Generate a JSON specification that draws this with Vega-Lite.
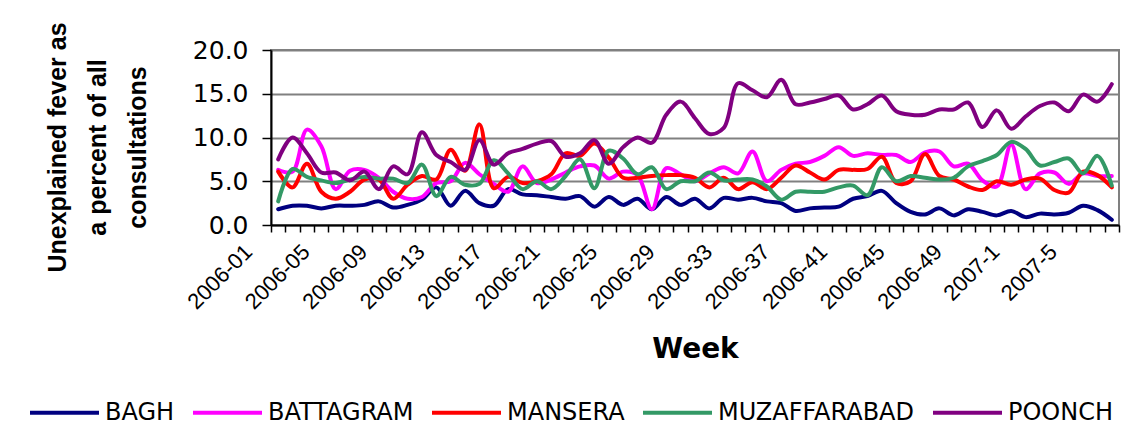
{
"$schema": "https://vega.github.io/schema/vega-lite/v6.json",
"width": 848, "height": 175,
"autosize": {"type": "none"},
"padding": {"left": 271, "top": 50, "right": 16, "bottom": 213},
"background": "white",
"data": {"values": [
{"week":"2006-01","region":"BAGH","pct":1.8},{"week":"2006-02","region":"BAGH","pct":2.2},{"week":"2006-03","region":"BAGH","pct":2.2},{"week":"2006-04","region":"BAGH","pct":1.9},{"week":"2006-05","region":"BAGH","pct":2.2},{"week":"2006-06","region":"BAGH","pct":2.2},{"week":"2006-07","region":"BAGH","pct":2.3},{"week":"2006-08","region":"BAGH","pct":2.7},{"week":"2006-09","region":"BAGH","pct":2.0},{"week":"2006-10","region":"BAGH","pct":2.3},
{"week":"2006-11","region":"BAGH","pct":2.9},{"week":"2006-12","region":"BAGH","pct":4.3},{"week":"2006-13","region":"BAGH","pct":2.2},{"week":"2006-14","region":"BAGH","pct":3.9},{"week":"2006-15","region":"BAGH","pct":2.5},{"week":"2006-16","region":"BAGH","pct":2.2},{"week":"2006-17","region":"BAGH","pct":4.1},{"week":"2006-18","region":"BAGH","pct":3.5},{"week":"2006-19","region":"BAGH","pct":3.4},{"week":"2006-20","region":"BAGH","pct":3.2},
{"week":"2006-21","region":"BAGH","pct":3.0},{"week":"2006-22","region":"BAGH","pct":3.3},{"week":"2006-23","region":"BAGH","pct":2.1},{"week":"2006-24","region":"BAGH","pct":3.2},{"week":"2006-25","region":"BAGH","pct":2.3},{"week":"2006-26","region":"BAGH","pct":3.0},{"week":"2006-27","region":"BAGH","pct":1.8},{"week":"2006-28","region":"BAGH","pct":3.2},{"week":"2006-29","region":"BAGH","pct":2.3},{"week":"2006-30","region":"BAGH","pct":3.0},
{"week":"2006-31","region":"BAGH","pct":1.9},{"week":"2006-32","region":"BAGH","pct":3.1},{"week":"2006-33","region":"BAGH","pct":2.9},{"week":"2006-34","region":"BAGH","pct":3.1},{"week":"2006-35","region":"BAGH","pct":2.7},{"week":"2006-36","region":"BAGH","pct":2.5},{"week":"2006-37","region":"BAGH","pct":1.6},{"week":"2006-38","region":"BAGH","pct":1.9},{"week":"2006-39","region":"BAGH","pct":2.0},{"week":"2006-40","region":"BAGH","pct":2.1},
{"week":"2006-41","region":"BAGH","pct":3.0},{"week":"2006-42","region":"BAGH","pct":3.3},{"week":"2006-43","region":"BAGH","pct":3.9},{"week":"2006-44","region":"BAGH","pct":2.5},{"week":"2006-45","region":"BAGH","pct":1.5},{"week":"2006-46","region":"BAGH","pct":1.2},{"week":"2006-47","region":"BAGH","pct":1.9},{"week":"2006-48","region":"BAGH","pct":1.1},{"week":"2006-49","region":"BAGH","pct":1.8},{"week":"2006-50","region":"BAGH","pct":1.5},
{"week":"2006-51","region":"BAGH","pct":1.1},{"week":"2006-52","region":"BAGH","pct":1.6},{"week":"2007-1","region":"BAGH","pct":0.9},{"week":"2007-2","region":"BAGH","pct":1.3},{"week":"2007-3","region":"BAGH","pct":1.2},{"week":"2007-4","region":"BAGH","pct":1.4},{"week":"2007-5","region":"BAGH","pct":2.2},{"week":"2007-6","region":"BAGH","pct":1.7},{"week":"2007-7","region":"BAGH","pct":0.6},
{"week":"2006-01","region":"BATTAGRAM","pct":6.3},{"week":"2006-02","region":"BATTAGRAM","pct":6.1},{"week":"2006-03","region":"BATTAGRAM","pct":10.9},{"week":"2006-04","region":"BATTAGRAM","pct":9.0},{"week":"2006-05","region":"BATTAGRAM","pct":4.1},{"week":"2006-06","region":"BATTAGRAM","pct":6.2},{"week":"2006-07","region":"BATTAGRAM","pct":6.3},{"week":"2006-08","region":"BATTAGRAM","pct":5.4},{"week":"2006-09","region":"BATTAGRAM","pct":3.8},{"week":"2006-10","region":"BATTAGRAM","pct":3.0},
{"week":"2006-11","region":"BATTAGRAM","pct":3.2},{"week":"2006-12","region":"BATTAGRAM","pct":4.8},{"week":"2006-13","region":"BATTAGRAM","pct":5.0},{"week":"2006-14","region":"BATTAGRAM","pct":7.1},{"week":"2006-15","region":"BATTAGRAM","pct":5.8},{"week":"2006-16","region":"BATTAGRAM","pct":4.7},{"week":"2006-17","region":"BATTAGRAM","pct":3.8},{"week":"2006-18","region":"BATTAGRAM","pct":6.7},{"week":"2006-19","region":"BATTAGRAM","pct":4.8},{"week":"2006-20","region":"BATTAGRAM","pct":5.2},
{"week":"2006-21","region":"BATTAGRAM","pct":6.0},{"week":"2006-22","region":"BATTAGRAM","pct":6.7},{"week":"2006-23","region":"BATTAGRAM","pct":6.8},{"week":"2006-24","region":"BATTAGRAM","pct":5.3},{"week":"2006-25","region":"BATTAGRAM","pct":6.1},{"week":"2006-26","region":"BATTAGRAM","pct":5.7},{"week":"2006-27","region":"BATTAGRAM","pct":1.8},{"week":"2006-28","region":"BATTAGRAM","pct":6.5},{"week":"2006-29","region":"BATTAGRAM","pct":5.8},{"week":"2006-30","region":"BATTAGRAM","pct":5.0},
{"week":"2006-31","region":"BATTAGRAM","pct":5.9},{"week":"2006-32","region":"BATTAGRAM","pct":6.6},{"week":"2006-33","region":"BATTAGRAM","pct":5.9},{"week":"2006-34","region":"BATTAGRAM","pct":8.4},{"week":"2006-35","region":"BATTAGRAM","pct":5.0},{"week":"2006-36","region":"BATTAGRAM","pct":6.3},{"week":"2006-37","region":"BATTAGRAM","pct":7.0},{"week":"2006-38","region":"BATTAGRAM","pct":7.2},{"week":"2006-39","region":"BATTAGRAM","pct":7.9},{"week":"2006-40","region":"BATTAGRAM","pct":8.9},
{"week":"2006-41","region":"BATTAGRAM","pct":7.9},{"week":"2006-42","region":"BATTAGRAM","pct":8.2},{"week":"2006-43","region":"BATTAGRAM","pct":8.0},{"week":"2006-44","region":"BATTAGRAM","pct":8.0},{"week":"2006-45","region":"BATTAGRAM","pct":7.2},{"week":"2006-46","region":"BATTAGRAM","pct":8.3},{"week":"2006-47","region":"BATTAGRAM","pct":8.4},{"week":"2006-48","region":"BATTAGRAM","pct":6.7},{"week":"2006-49","region":"BATTAGRAM","pct":7.0},{"week":"2006-50","region":"BATTAGRAM","pct":5.1},
{"week":"2006-51","region":"BATTAGRAM","pct":4.4},{"week":"2006-52","region":"BATTAGRAM","pct":9.2},{"week":"2007-1","region":"BATTAGRAM","pct":4.1},{"week":"2007-2","region":"BATTAGRAM","pct":5.9},{"week":"2007-3","region":"BATTAGRAM","pct":6.0},{"week":"2007-4","region":"BATTAGRAM","pct":4.7},{"week":"2007-5","region":"BATTAGRAM","pct":5.9},{"week":"2007-6","region":"BATTAGRAM","pct":5.6},{"week":"2007-7","region":"BATTAGRAM","pct":5.6},
{"week":"2006-01","region":"MANSERA","pct":6.1},{"week":"2006-02","region":"MANSERA","pct":4.3},{"week":"2006-03","region":"MANSERA","pct":7.0},{"week":"2006-04","region":"MANSERA","pct":3.8},{"week":"2006-05","region":"MANSERA","pct":3.0},{"week":"2006-06","region":"MANSERA","pct":3.8},{"week":"2006-07","region":"MANSERA","pct":5.2},{"week":"2006-08","region":"MANSERA","pct":5.2},{"week":"2006-09","region":"MANSERA","pct":3.0},{"week":"2006-10","region":"MANSERA","pct":4.6},
{"week":"2006-11","region":"MANSERA","pct":5.6},{"week":"2006-12","region":"MANSERA","pct":5.2},{"week":"2006-13","region":"MANSERA","pct":8.6},{"week":"2006-14","region":"MANSERA","pct":6.2},{"week":"2006-15","region":"MANSERA","pct":11.5},{"week":"2006-16","region":"MANSERA","pct":4.2},{"week":"2006-17","region":"MANSERA","pct":5.5},{"week":"2006-18","region":"MANSERA","pct":4.8},{"week":"2006-19","region":"MANSERA","pct":5.0},{"week":"2006-20","region":"MANSERA","pct":5.8},
{"week":"2006-21","region":"MANSERA","pct":8.2},{"week":"2006-22","region":"MANSERA","pct":7.9},{"week":"2006-23","region":"MANSERA","pct":9.3},{"week":"2006-24","region":"MANSERA","pct":7.7},{"week":"2006-25","region":"MANSERA","pct":5.4},{"week":"2006-26","region":"MANSERA","pct":5.4},{"week":"2006-27","region":"MANSERA","pct":5.6},{"week":"2006-28","region":"MANSERA","pct":5.7},{"week":"2006-29","region":"MANSERA","pct":5.7},{"week":"2006-30","region":"MANSERA","pct":5.4},
{"week":"2006-31","region":"MANSERA","pct":4.3},{"week":"2006-32","region":"MANSERA","pct":5.4},{"week":"2006-33","region":"MANSERA","pct":4.1},{"week":"2006-34","region":"MANSERA","pct":4.9},{"week":"2006-35","region":"MANSERA","pct":4.1},{"week":"2006-36","region":"MANSERA","pct":5.4},{"week":"2006-37","region":"MANSERA","pct":6.8},{"week":"2006-38","region":"MANSERA","pct":6.0},{"week":"2006-39","region":"MANSERA","pct":5.2},{"week":"2006-40","region":"MANSERA","pct":6.3},
{"week":"2006-41","region":"MANSERA","pct":6.3},{"week":"2006-42","region":"MANSERA","pct":6.4},{"week":"2006-43","region":"MANSERA","pct":7.8},{"week":"2006-44","region":"MANSERA","pct":4.8},{"week":"2006-45","region":"MANSERA","pct":5.0},{"week":"2006-46","region":"MANSERA","pct":8.1},{"week":"2006-47","region":"MANSERA","pct":5.6},{"week":"2006-48","region":"MANSERA","pct":5.2},{"week":"2006-49","region":"MANSERA","pct":4.4},{"week":"2006-50","region":"MANSERA","pct":4.0},
{"week":"2006-51","region":"MANSERA","pct":5.0},{"week":"2006-52","region":"MANSERA","pct":4.6},{"week":"2007-1","region":"MANSERA","pct":5.2},{"week":"2007-2","region":"MANSERA","pct":5.3},{"week":"2007-3","region":"MANSERA","pct":4.0},{"week":"2007-4","region":"MANSERA","pct":3.7},{"week":"2007-5","region":"MANSERA","pct":6.1},{"week":"2007-6","region":"MANSERA","pct":5.7},{"week":"2007-7","region":"MANSERA","pct":4.3},
{"week":"2006-01","region":"MUZAFFARABAD","pct":2.7},{"week":"2006-02","region":"MUZAFFARABAD","pct":6.4},{"week":"2006-03","region":"MUZAFFARABAD","pct":5.5},{"week":"2006-04","region":"MUZAFFARABAD","pct":5.1},{"week":"2006-05","region":"MUZAFFARABAD","pct":4.8},{"week":"2006-06","region":"MUZAFFARABAD","pct":5.2},{"week":"2006-07","region":"MUZAFFARABAD","pct":5.5},{"week":"2006-08","region":"MUZAFFARABAD","pct":5.3},{"week":"2006-09","region":"MUZAFFARABAD","pct":5.3},{"week":"2006-10","region":"MUZAFFARABAD","pct":4.8},
{"week":"2006-11","region":"MUZAFFARABAD","pct":6.9},{"week":"2006-12","region":"MUZAFFARABAD","pct":3.3},{"week":"2006-13","region":"MUZAFFARABAD","pct":5.5},{"week":"2006-14","region":"MUZAFFARABAD","pct":4.6},{"week":"2006-15","region":"MUZAFFARABAD","pct":4.7},{"week":"2006-16","region":"MUZAFFARABAD","pct":7.4},{"week":"2006-17","region":"MUZAFFARABAD","pct":5.9},{"week":"2006-18","region":"MUZAFFARABAD","pct":4.1},{"week":"2006-19","region":"MUZAFFARABAD","pct":5.0},{"week":"2006-20","region":"MUZAFFARABAD","pct":4.1},
{"week":"2006-21","region":"MUZAFFARABAD","pct":5.6},{"week":"2006-22","region":"MUZAFFARABAD","pct":7.5},{"week":"2006-23","region":"MUZAFFARABAD","pct":4.2},{"week":"2006-24","region":"MUZAFFARABAD","pct":8.5},{"week":"2006-25","region":"MUZAFFARABAD","pct":7.6},{"week":"2006-26","region":"MUZAFFARABAD","pct":5.8},{"week":"2006-27","region":"MUZAFFARABAD","pct":6.6},{"week":"2006-28","region":"MUZAFFARABAD","pct":4.1},{"week":"2006-29","region":"MUZAFFARABAD","pct":5.0},{"week":"2006-30","region":"MUZAFFARABAD","pct":5.0},
{"week":"2006-31","region":"MUZAFFARABAD","pct":6.0},{"week":"2006-32","region":"MUZAFFARABAD","pct":5.1},{"week":"2006-33","region":"MUZAFFARABAD","pct":5.2},{"week":"2006-34","region":"MUZAFFARABAD","pct":5.2},{"week":"2006-35","region":"MUZAFFARABAD","pct":4.4},{"week":"2006-36","region":"MUZAFFARABAD","pct":2.9},{"week":"2006-37","region":"MUZAFFARABAD","pct":3.8},{"week":"2006-38","region":"MUZAFFARABAD","pct":3.8},{"week":"2006-39","region":"MUZAFFARABAD","pct":3.8},{"week":"2006-40","region":"MUZAFFARABAD","pct":4.3},
{"week":"2006-41","region":"MUZAFFARABAD","pct":4.5},{"week":"2006-42","region":"MUZAFFARABAD","pct":3.4},{"week":"2006-43","region":"MUZAFFARABAD","pct":6.6},{"week":"2006-44","region":"MUZAFFARABAD","pct":5.0},{"week":"2006-45","region":"MUZAFFARABAD","pct":5.6},{"week":"2006-46","region":"MUZAFFARABAD","pct":5.4},{"week":"2006-47","region":"MUZAFFARABAD","pct":5.2},{"week":"2006-48","region":"MUZAFFARABAD","pct":5.4},{"week":"2006-49","region":"MUZAFFARABAD","pct":6.7},{"week":"2006-50","region":"MUZAFFARABAD","pct":7.3},
{"week":"2006-51","region":"MUZAFFARABAD","pct":8.0},{"week":"2006-52","region":"MUZAFFARABAD","pct":9.5},{"week":"2007-1","region":"MUZAFFARABAD","pct":8.7},{"week":"2007-2","region":"MUZAFFARABAD","pct":6.8},{"week":"2007-3","region":"MUZAFFARABAD","pct":7.2},{"week":"2007-4","region":"MUZAFFARABAD","pct":7.6},{"week":"2007-5","region":"MUZAFFARABAD","pct":5.9},{"week":"2007-6","region":"MUZAFFARABAD","pct":7.9},{"week":"2007-7","region":"MUZAFFARABAD","pct":4.5},
{"week":"2006-01","region":"POONCH","pct":7.5},{"week":"2006-02","region":"POONCH","pct":10.0},{"week":"2006-03","region":"POONCH","pct":8.2},{"week":"2006-04","region":"POONCH","pct":6.0},{"week":"2006-05","region":"POONCH","pct":6.0},{"week":"2006-06","region":"POONCH","pct":5.1},{"week":"2006-07","region":"POONCH","pct":6.1},{"week":"2006-08","region":"POONCH","pct":4.1},{"week":"2006-09","region":"POONCH","pct":6.7},{"week":"2006-10","region":"POONCH","pct":5.8},
{"week":"2006-11","region":"POONCH","pct":10.6},{"week":"2006-12","region":"POONCH","pct":8.0},{"week":"2006-13","region":"POONCH","pct":7.2},{"week":"2006-14","region":"POONCH","pct":6.3},{"week":"2006-15","region":"POONCH","pct":9.7},{"week":"2006-16","region":"POONCH","pct":6.9},{"week":"2006-17","region":"POONCH","pct":8.2},{"week":"2006-18","region":"POONCH","pct":8.7},{"week":"2006-19","region":"POONCH","pct":9.3},{"week":"2006-20","region":"POONCH","pct":9.6},
{"week":"2006-21","region":"POONCH","pct":7.8},{"week":"2006-22","region":"POONCH","pct":8.2},{"week":"2006-23","region":"POONCH","pct":9.7},{"week":"2006-24","region":"POONCH","pct":7.0},{"week":"2006-25","region":"POONCH","pct":8.9},{"week":"2006-26","region":"POONCH","pct":10.0},{"week":"2006-27","region":"POONCH","pct":9.4},{"week":"2006-28","region":"POONCH","pct":12.6},{"week":"2006-29","region":"POONCH","pct":14.1},{"week":"2006-30","region":"POONCH","pct":12.2},
{"week":"2006-31","region":"POONCH","pct":10.4},{"week":"2006-32","region":"POONCH","pct":11.1},{"week":"2006-33","region":"POONCH","pct":16.2},{"week":"2006-34","region":"POONCH","pct":15.4},{"week":"2006-35","region":"POONCH","pct":14.6},{"week":"2006-36","region":"POONCH","pct":16.6},{"week":"2006-37","region":"POONCH","pct":13.8},{"week":"2006-38","region":"POONCH","pct":14.0},{"week":"2006-39","region":"POONCH","pct":14.4},{"week":"2006-40","region":"POONCH","pct":14.8},
{"week":"2006-41","region":"POONCH","pct":13.2},{"week":"2006-42","region":"POONCH","pct":13.8},{"week":"2006-43","region":"POONCH","pct":14.8},{"week":"2006-44","region":"POONCH","pct":13.0},{"week":"2006-45","region":"POONCH","pct":12.6},{"week":"2006-46","region":"POONCH","pct":12.6},{"week":"2006-47","region":"POONCH","pct":13.2},{"week":"2006-48","region":"POONCH","pct":13.2},{"week":"2006-49","region":"POONCH","pct":14.0},{"week":"2006-50","region":"POONCH","pct":11.2},
{"week":"2006-51","region":"POONCH","pct":13.1},{"week":"2006-52","region":"POONCH","pct":11.0},{"week":"2007-1","region":"POONCH","pct":12.4},{"week":"2007-2","region":"POONCH","pct":13.6},{"week":"2007-3","region":"POONCH","pct":14.0},{"week":"2007-4","region":"POONCH","pct":13.0},{"week":"2007-5","region":"POONCH","pct":14.9},{"week":"2007-6","region":"POONCH","pct":14.1},{"week":"2007-7","region":"POONCH","pct":16.1}
]},
"mark": {"type": "line", "interpolate": "catmull-rom", "strokeWidth": 4, "strokeCap": "round", "strokeJoin": "round"},
"encoding": {
  "x": {"field": "week", "type": "ordinal", "sort": null, "bandPosition": 0.5,
    "scale": {"type": "band", "paddingInner": 0, "paddingOuter": 0},
    "axis": {"title": "Week", "tickBand": "extent", "labelAngle": -45, "labelAlign": "right", "labelBaseline": "middle",
      "labelFont": "Liberation Sans", "labelFontSize": 22, "labelColor": "black", "labelPadding": 16, "labelOffset": -30,
      "labelOverlap": false, "labelBound": false, "labelFlush": false,
      "labelExpr": "indexof(['2006-01','2006-05','2006-09','2006-13','2006-17','2006-21','2006-25','2006-29','2006-33','2006-37','2006-41','2006-45','2006-49','2007-1','2007-5'], datum.value) >= 0 ? datum.value : ''",
      "ticks": true, "tickSize": 7, "tickColor": "black", "tickWidth": 1.5, "domainColor": "black", "domainWidth": 2, "grid": false,
      "titleFont": "DejaVu Sans", "titleFontSize": 28, "titleFontWeight": "bold", "titleColor": "black",
      "titleX": 424, "titleY": 132, "titleBaseline": "alphabetic", "titleAlign": "center"}},
  "y": {"field": "pct", "type": "quantitative",
    "scale": {"domain": [0, 20], "nice": false, "zero": true},
    "axis": {"values": [0, 5, 10, 15, 20], "format": ".1f",
      "title": ["Unexplained fever as", "a percent of all", "consultations"],
      "titleFont": "Liberation Sans", "titleFontSize": 25, "titleFontWeight": "bold", "titleColor": "black",
      "titleAngle": -90, "titleX": -214, "titleY": 97, "titleBaseline": "middle", "titleAlign": "center", "titleLineHeight": 40,
      "labelFont": "DejaVu Sans", "labelFontSize": 25, "labelColor": "black", "labelPadding": 14,
      "tickSize": 9, "tickColor": "black", "tickWidth": 1.5, "domainColor": "black", "domainWidth": 2,
      "grid": true, "gridColor": "#808080", "gridWidth": 2}},
  "color": {"field": "region", "type": "nominal",
    "scale": {"domain": ["BAGH", "BATTAGRAM", "MANSERA", "MUZAFFARABAD", "POONCH"],
              "range": ["#000080", "#FF00FF", "#FF0000", "#339966", "#800080"]},
    "legend": {"orient": "none", "legendX": -243, "legendY": 326, "direction": "horizontal", "title": null,
      "symbolType": "stroke", "symbolSize": 4761, "symbolStrokeWidth": 4,
      "labelFont": "DejaVu Sans", "labelFontSize": 24, "labelColor": "black", "labelOffset": 4, "labelLimit": 400,
      "columnPadding": 10, "padding": 0}}
},
"config": {"view": {"stroke": "#808080", "strokeWidth": 2}}
}
